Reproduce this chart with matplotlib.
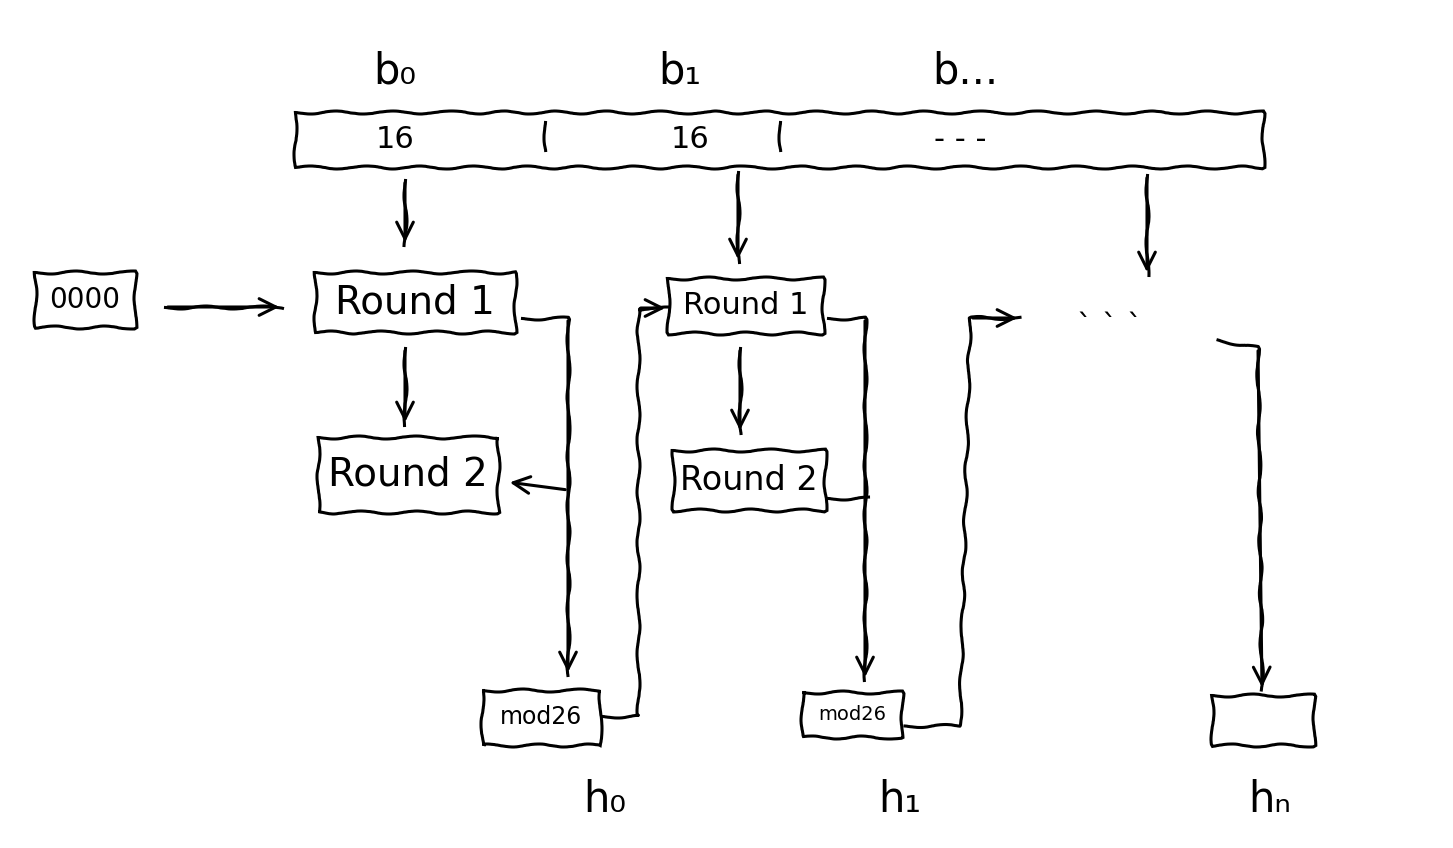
import matplotlib.pyplot as plt
from matplotlib.patches import Rectangle

# block labels along the top strip
block_labels = ["b\u2080", "b\u2081", "b..."]
block_label_x = [395, 680, 965]
cell_texts = ["16", "16", "- - -"]
cell_x = [395, 690, 960]

# boxes: (label, x, y, w, h)
box_labels = ["0000", "Round 1", "Round 2", "mod26", "Round 1", "Round 2", "mod26", ""]
box_x = [35, 315, 318, 482, 668, 673, 802, 1212]
box_y = [272, 272, 437, 690, 278, 450, 692, 695]
box_w = [100, 200, 180, 118, 155, 152, 100, 102]
box_h = [55, 60, 75, 55, 55, 60, 45, 50]
box_font = [20, 28, 28, 17, 22, 24, 14, 10]

out_labels = ["h\u2080", "h\u2081", "h\u2099"]
out_x = [605, 900, 1270]

fig = plt.figure(figsize=(14.53, 8.48), dpi=100)
ax = fig.add_axes([0, 0, 1, 1])
ax.set_xlim(0, 1453)
ax.set_ylim(848, 0)
ax.axis("off")

kw = dict(color="black", lw=2.2)

# top strip
ax.add_patch(Rectangle((295, 112), 968, 55, fill=False, **kw))
for x in [545, 780]:
    ax.plot([x, x], [122, 150], **kw)
for lab, x in zip(block_labels, block_label_x):
    ax.text(x, 72, lab, fontsize=30, ha="center", va="center")
for t, x in zip(cell_texts, cell_x):
    ax.text(x, 140, t, fontsize=22, ha="center", va="center")

for lab, x, y, w, h, fs in zip(box_labels, box_x, box_y, box_w, box_h, box_font):
    ax.add_patch(Rectangle((x, y), w, h, fill=False, **kw))
    ax.text(x + w / 2, y + h / 2, lab, fontsize=fs, ha="center", va="center")

def arrow(pts):
    xs, ys = zip(*pts)
    ax.plot(xs, ys, **kw)
    ax.annotate("", xy=pts[-1], xytext=pts[-2],
                arrowprops=dict(arrowstyle="->", lw=2.2, color="black", mutation_scale=30))

# vertical feeds from strip
arrow([(405, 180), (405, 245)])
arrow([(738, 172), (738, 262)])
arrow([(1147, 175), (1147, 275)])
# initial state
arrow([(165, 307), (282, 307)])
# round1 -> round2
arrow([(405, 348), (405, 425)])
arrow([(740, 348), (740, 433)])
# chain 0
arrow([(522, 318), (568, 318), (568, 675)])
ax.annotate("", xy=(507, 482), xytext=(568, 490),
            arrowprops=dict(arrowstyle="->", lw=2.2, color="black", mutation_scale=30))
arrow([(602, 716), (638, 716), (638, 308), (668, 308)])
# chain 1
arrow([(828, 318), (865, 318), (865, 680)])
ax.plot([828, 868], [498, 498], **kw)
arrow([(905, 726), (960, 726), (970, 318), (1020, 318)])
ax.text(1110, 328, "` ` `", fontsize=22, ha="center", va="center")
# final
arrow([(1218, 340), (1258, 348), (1262, 690)])

for lab, x in zip(out_labels, out_x):
    ax.text(x, 800, lab, fontsize=30, ha="center", va="center")

# hand-drawn wobble
for a in ax.lines + ax.patches:
    a.set_sketch_params(1.5, 60, 2)

fig.savefig("out.png", dpi=100, facecolor="white")
